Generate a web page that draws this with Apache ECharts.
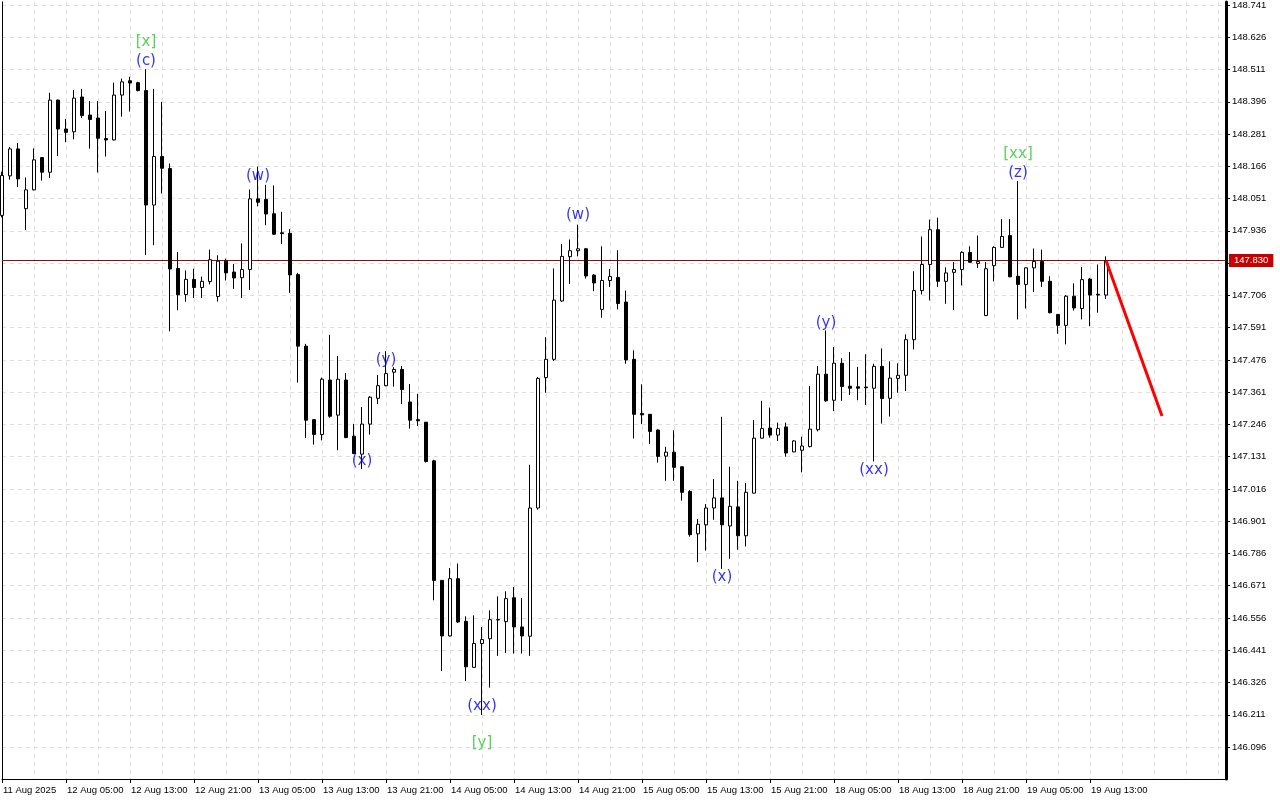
<!DOCTYPE html>
<html><head><meta charset="utf-8">
<script src="https://cdn.jsdelivr.net/npm/echarts@6/dist/echarts.min.js"></script>
<style>html,body{margin:0;padding:0;background:#fff;}#c{width:1280px;height:800px;}</style>
</head><body><div id="c"></div><script>
// H1 bars, bar 0 = 11 Aug 21:00
const opens = [147.991,148.132,148.228,148.015,148.082,148.197,148.145,148.402,148.299,148.289,
148.413,148.349,148.338,148.265,148.260,148.420,148.471,148.464,148.436,148.028,
148.201,148.158,147.802,147.709,147.763,147.734,147.755,147.702,147.828,147.789,
147.769,147.798,148.050,148.048,147.997,147.929,147.927,147.780,147.525,147.263,
147.210,147.404,147.279,147.404,147.204,147.140,147.247,147.339,147.384,147.432,
147.442,147.326,147.263,147.254,147.116,146.690,146.492,146.696,146.544,146.380,
146.465,146.482,146.550,146.543,146.628,146.524,146.491,146.948,147.413,147.478,
147.686,147.844,147.865,147.872,147.778,147.656,147.759,147.770,147.682,147.478,
147.285,147.282,147.226,147.133,147.147,147.095,147.007,146.856,146.888,146.948,
146.984,146.884,146.952,146.849,147.001,147.197,147.233,147.208,147.237,147.148,
147.154,147.167,147.227,147.425,147.332,147.464,147.382,147.380,147.379,147.375,
147.453,147.339,147.410,147.421,147.548,147.723,147.816,147.940,147.756,147.788,
147.798,147.859,147.820,147.634,147.812,147.877,147.919,147.774,147.745,147.804,
147.827,147.756,147.638,147.599,147.703,147.659,147.764,147.710,147.707];
const highs = [148.147,148.235,148.249,148.126,148.230,148.199,148.428,148.404,148.335,148.438,
148.442,148.399,148.399,148.363,148.464,148.479,148.485,148.467,148.512,148.442,
148.396,148.176,147.860,147.795,147.801,147.773,147.869,147.849,147.837,147.818,
147.891,148.083,148.165,148.100,148.098,148.004,147.942,147.786,147.533,147.263,
147.413,147.565,147.490,147.429,147.248,147.308,147.347,147.422,147.507,147.450,
147.454,147.390,147.355,147.254,147.120,146.690,146.734,146.750,146.562,146.565,
146.524,146.583,146.633,146.651,146.666,146.627,147.102,147.415,147.557,147.802,
147.889,147.905,147.958,147.875,147.782,147.881,147.800,147.867,147.723,147.510,
147.389,147.283,147.228,147.166,147.225,147.095,147.012,146.909,146.962,147.051,
147.273,147.095,147.045,147.037,147.261,147.330,147.306,147.252,147.252,147.190,
147.202,147.383,147.454,147.581,147.522,147.482,147.504,147.451,147.496,147.462,
147.517,147.471,147.464,147.567,147.792,147.916,147.976,147.983,147.806,147.825,
147.863,147.881,147.919,147.825,147.881,147.978,147.978,148.114,147.806,147.873,
147.869,147.774,147.639,147.707,147.749,147.807,147.768,147.816,147.845];
const lows = [147.984,148.118,148.092,147.939,148.080,148.115,148.124,148.202,148.252,148.262,
148.338,148.229,148.144,148.201,148.258,148.343,148.361,148.433,147.850,147.885,
148.069,147.578,147.653,147.683,147.697,147.697,147.745,147.684,147.759,147.729,
147.697,147.725,148.023,147.956,147.922,147.889,147.715,147.395,147.197,147.174,
147.189,147.270,147.154,147.197,147.140,147.087,147.210,147.318,147.382,147.381,
147.318,147.231,147.240,147.110,146.619,146.367,146.490,146.538,146.331,146.378,
146.210,146.308,146.421,146.431,146.429,146.429,146.421,146.942,147.359,147.472,
147.683,147.747,147.845,147.766,147.721,147.626,147.736,147.656,147.462,147.196,
147.247,147.176,147.110,147.045,147.045,146.974,146.846,146.755,146.796,146.906,
146.731,146.767,146.799,146.811,147.000,147.196,147.199,147.187,147.131,147.147,
147.075,147.164,147.221,147.327,147.294,147.330,147.351,147.332,147.315,147.114,
147.249,147.274,147.359,147.365,147.513,147.709,147.688,147.736,147.676,147.654,
147.741,147.823,147.804,147.632,147.756,147.876,147.771,147.620,147.659,147.718,
147.736,147.642,147.569,147.531,147.652,147.620,147.596,147.644,147.693];
const closes = [148.133,148.228,148.121,148.082,148.189,148.145,148.402,148.299,148.287,148.409,
148.347,148.333,148.266,148.260,148.420,148.467,148.463,148.436,148.028,148.201,
148.159,147.800,147.708,147.763,147.734,147.756,147.833,147.828,147.786,147.768,
147.798,148.050,148.038,147.996,147.924,147.926,147.779,147.525,147.261,147.210,
147.407,147.275,147.407,147.199,147.142,147.247,147.343,147.384,147.427,147.442,
147.370,147.261,147.259,147.114,146.690,146.492,146.696,146.542,146.382,146.465,
146.479,146.550,146.549,146.625,146.524,146.492,146.948,147.410,147.478,147.689,
147.845,147.865,147.872,147.775,147.750,147.759,147.773,147.677,147.476,147.282,
147.280,147.221,147.132,147.147,147.093,147.004,146.853,146.890,146.948,146.984,
146.888,146.954,146.849,147.004,147.197,147.231,147.208,147.231,147.144,147.187,
147.169,147.229,147.425,147.330,147.464,147.381,147.375,147.375,147.377,147.453,
147.338,147.411,147.421,147.548,147.723,147.816,147.940,147.756,147.786,147.798,
147.859,147.824,147.827,147.801,147.877,147.916,147.772,147.745,147.804,147.827,
147.756,147.644,147.599,147.703,147.661,147.762,147.707,147.707,147.830];

const timeLabels = ['11 Aug 2025','12 Aug 05:00','12 Aug 13:00','12 Aug 21:00','13 Aug 05:00','13 Aug 13:00',
'13 Aug 21:00','14 Aug 05:00','14 Aug 13:00','14 Aug 21:00','15 Aug 05:00','15 Aug 13:00','15 Aug 21:00',
'18 Aug 05:00','18 Aug 13:00','18 Aug 21:00','19 Aug 05:00','19 Aug 13:00'];
const priceTicks = [148.741,148.626,148.511,148.396,148.281,148.166,148.051,147.936,147.821,147.706,
147.591,147.476,147.361,147.246,147.131,147.016,146.901,146.786,146.671,146.556,146.441,146.326,146.211,146.096];
const priceLabels = priceTicks.filter(v => v !== 147.821);
const currentPrice = 147.830;

const forecastBars = [138, 145];
const forecastPrices = [147.830, 147.276];

const waveBars   = [18, 32, 45, 48, 60, 72, 90, 103, 109, 127];
const waveTexts  = ['(c)','(w)','(x)','(y)','(xx)','(w)','(x)','(y)','(xx)','(z)'];
const wavePrices = [148.542,148.130,147.116,147.475,146.242,147.991,146.700,147.607,147.084,148.140];
const bigWaveBars   = [18, 60, 127];
const bigWaveTexts  = ['[x]','[y]','[xx]'];
const bigWavePrices = [148.609,146.110,148.208];

const slotCount = 154;
const categories = Array.from({length: slotCount}, (_, i) => String(i));
const candleData = opens.map((o, i) => [o, closes[i], lows[i], highs[i]]);

const chart = echarts.init(document.getElementById('c'), null, {renderer: 'canvas'});
const axisFont = {fontFamily: '"Liberation Sans", Arial, sans-serif', fontSize: 9.5, color: '#000'};
chart.setOption({
  animation: false,
  backgroundColor: '#ffffff',
  grid: {left: 2, right: 54, top: 0, bottom: 21, containLabel: false},
  xAxis: {
    type: 'category', data: categories, boundaryGap: false,
    axisLine: {show: true, lineStyle: {color: '#000', width: 1}},
    axisTick: {show: true, length: 4, interval: (i) => i % 8 === 0 && i / 8 < timeLabels.length, lineStyle: {color: '#000'}},
    axisLabel: Object.assign({show: true, align: 'left', margin: 6, padding: [0,0,0,1],
      interval: (i) => i % 8 === 0,
      formatter: (v, i) => timeLabels[i / 8] || ''}, axisFont),
    splitLine: {show: true, interval: (i) => i % 4 === 0 && i > 0, lineStyle: {color: '#dedede', type: [4, 4], width: 1}}
  },
  yAxis: [{
    type: 'value', position: 'right', min: 145.982, max: 148.752, scale: true,
    axisLine: {show: true, lineStyle: {color: '#000', width: 3}},
    axisTick: {show: true, length: 4, customValues: priceTicks, lineStyle: {color: '#000'}},
    axisLabel: Object.assign({show: true, margin: 6, customValues: priceLabels, formatter: (v) => v.toFixed(3)}, axisFont),
    splitLine: {show: true, lineStyle: {color: '#dedede', type: [4, 4], width: 1}}
  }, {
    type: 'value', position: 'left', min: 145.982, max: 148.752,
    axisLine: {show: true, onZero: false, lineStyle: {color: '#000', width: 1}},
    axisTick: {show: false}, axisLabel: {show: false}, splitLine: {show: false}
  }],
  series: [{
    type: 'candlestick', data: candleData, barWidth: 4, clip: true, z: 3,
    itemStyle: {color: '#ffffff', color0: '#000000', borderColor: '#000000', borderColor0: '#000000', borderWidth: 1},
    emphasis: {disabled: true},
    markLine: {
      silent: true, symbol: ['none', 'none'], animation: false, z: 1,
      lineStyle: {color: '#8c1010', width: 1, type: 'solid'},
      label: {show: true, position: 'end', distance: 3, formatter: currentPrice.toFixed(3),
        color: '#fff', backgroundColor: '#c80000', padding: [2, 5, 1, 5],
        fontFamily: '"Liberation Sans", Arial, sans-serif', fontSize: 9.5},
      data: [{yAxis: currentPrice}]
    }
  }, {
    type: 'line', data: forecastBars.map((b, i) => [b, forecastPrices[i]]),
    symbol: 'none', lineStyle: {color: '#ff0000', width: 3}, z: 5
  }, {
    type: 'scatter', data: waveBars.map((b, i) => [b, wavePrices[i], waveTexts[i]]),
    symbolSize: 1, itemStyle: {color: 'rgba(0,0,0,0)'}, z: 6,
    label: {show: true, position: 'inside', formatter: (p) => p.value[2], color: '#0000f0',
      fontFamily: '"DejaVu Sans", sans-serif', fontSize: 15}
  }, {
    type: 'scatter', data: bigWaveBars.map((b, i) => [b, bigWavePrices[i], bigWaveTexts[i]]),
    symbolSize: 1, itemStyle: {color: 'rgba(0,0,0,0)'}, z: 6,
    label: {show: true, position: 'inside', formatter: (p) => p.value[2], color: '#2ec82e',
      fontFamily: '"DejaVu Sans", sans-serif', fontSize: 15}
  }]
});
</script></body></html>
